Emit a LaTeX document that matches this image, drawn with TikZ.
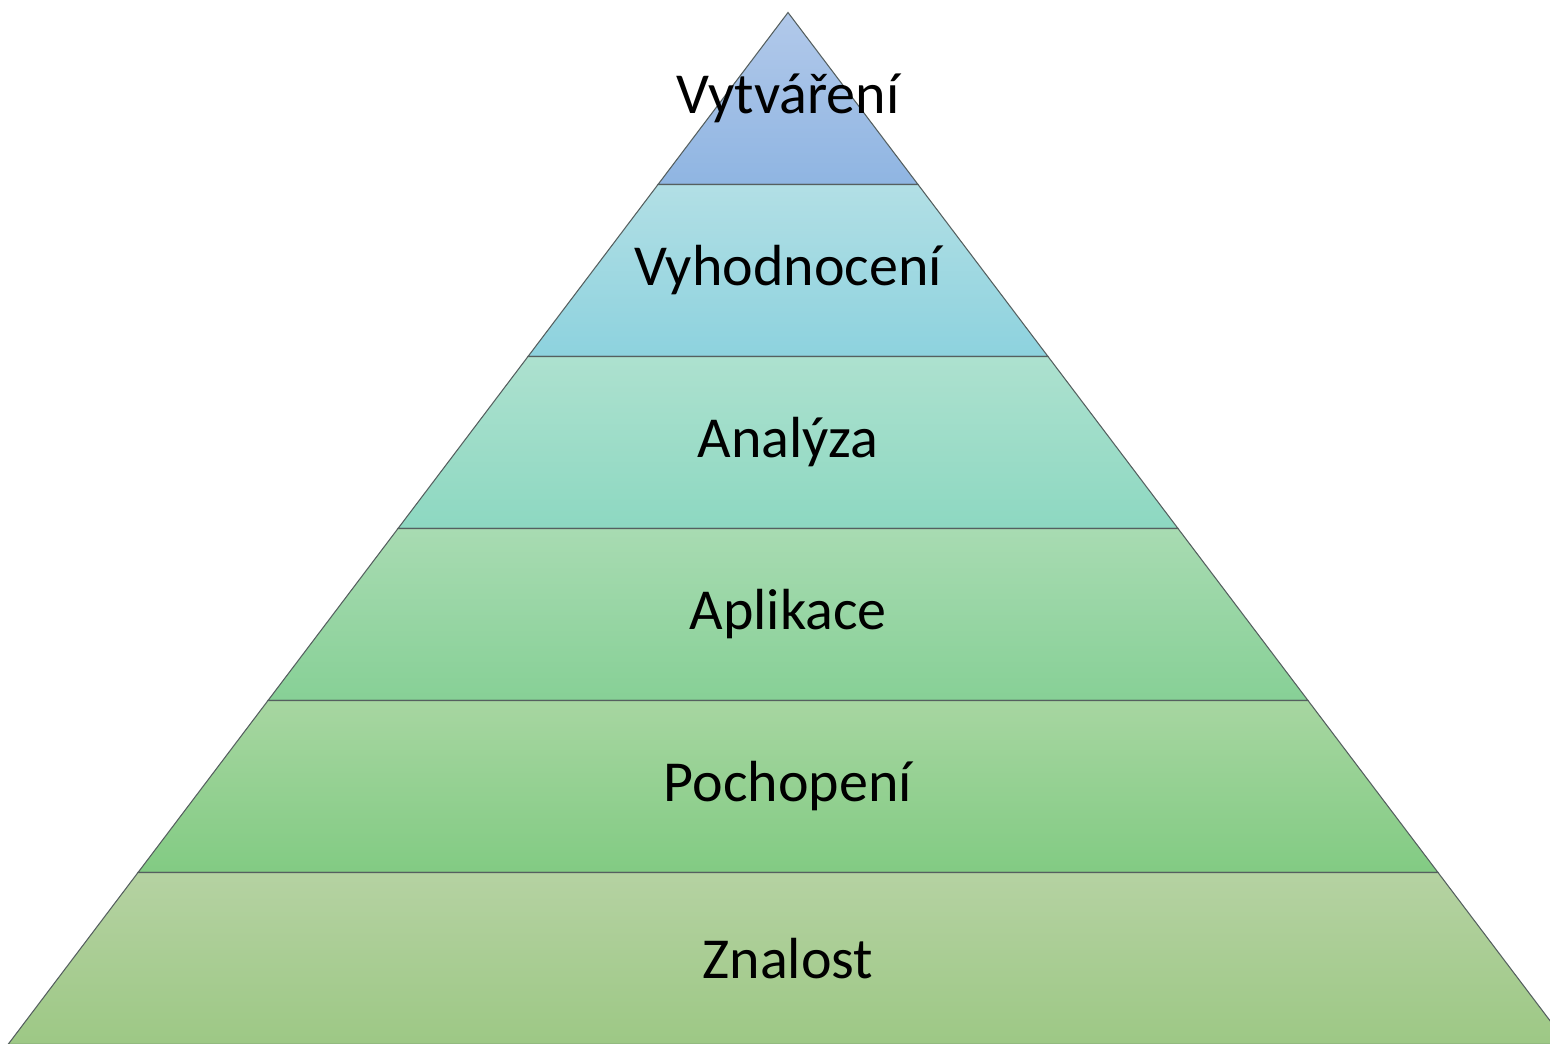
\documentclass[tikz,border=0pt]{standalone}
\usepackage{fontspec}
\setmainfont{Carlito}
\usetikzlibrary{calc}

% layer colours (top / bottom of each gradient)
\definecolor{c1t}{RGB}{178,201,234}
\definecolor{c1b}{RGB}{143,181,226}
\definecolor{c2t}{RGB}{178,223,229}
\definecolor{c2b}{RGB}{141,210,222}
\definecolor{c3t}{RGB}{173,225,207}
\definecolor{c3b}{RGB}{141,216,193}
\definecolor{c4t}{RGB}{168,219,178}
\definecolor{c4b}{RGB}{135,208,150}
\definecolor{c5t}{RGB}{167,214,161}
\definecolor{c5b}{RGB}{130,203,131}
\definecolor{c6t}{RGB}{181,210,162}
\definecolor{c6b}{RGB}{157,200,133}
\definecolor{edgegray}{RGB}{85,95,95}

\tikzset{
  layer/.style={draw=edgegray,line width=0.6pt},
  levellabel/.style={font=\fontsize{33}{40}\selectfont,text=black,inner sep=0pt}
}

\begin{document}
\begin{tikzpicture}
		% canvas
		\useasboundingbox (0,0) rectangle (31,20.86);
		\clip (0,0) rectangle (31,20.86);
		% apex of the pyramid, layer height, slope of the sides
		\coordinate (apex) at (15.76,20.61);
		\def\lh{3.44}
		\def\sl{0.7558}
		% layers from top to bottom
		\foreach \i/\lbl in {1/Vytváření,2/Vyhodnocení,3/Analýza,4/Aplikace,5/Pochopení,6/Znalost}{
			\pgfmathsetmacro{\dt}{\lh*(\i-1)}
			\pgfmathsetmacro{\db}{\lh*\i}
			\pgfmathsetmacro{\wt}{\dt*\sl}
			\pgfmathsetmacro{\wb}{\db*\sl}
			\shadedraw[layer,top color=c\i t,bottom color=c\i b]
				($(apex)+(-\wt,-\dt)$) -- ($(apex)+(\wt,-\dt)$)
				-- ($(apex)+(\wb,-\db)$) -- ($(apex)+(-\wb,-\db)$) -- cycle;
			\node[levellabel] (level\i) at ($(apex)+(0,-\dt-0.5*\lh)$) {\lbl};
		}
	\end{tikzpicture}
\end{document}
